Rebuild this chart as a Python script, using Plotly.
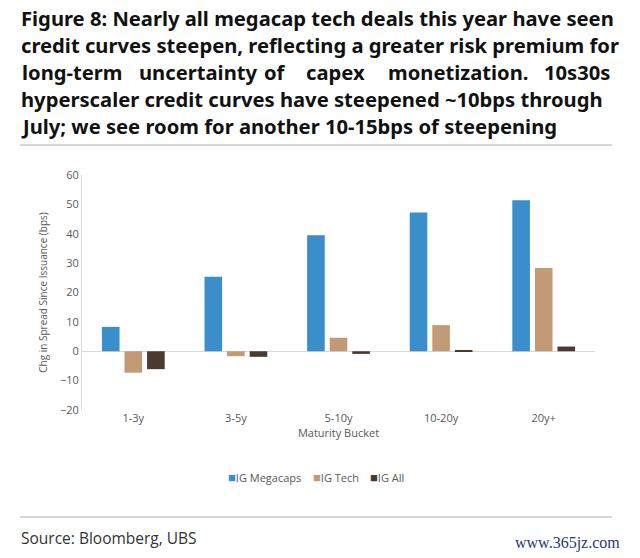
import plotly.graph_objects as go

buckets = ["1-3y", "3-5y", "5-10y", "10-20y", "20y+"]
series_names = ["IG Megacaps", "IG Tech", "IG All"]
ig_megacaps = [8.3, 25.4, 39.5, 47.2, 51.4]
ig_tech = [-7.3, -1.7, 4.6, 8.9, 28.3]
ig_all = [-6.1, -1.9, -0.9, 0.3, 1.6]
colors = ["#3A8FCB", "#C39A76", "#4B3A2E"]

title_lines = [
    "Figure 8: Nearly all megacap tech deals this year have seen",
    "credit curves steepen, reflecting a greater risk premium for",
    "long-term uncertainty of capex monetization. 10s30s",
    "hyperscaler credit curves have steepened ~10bps through",
    "July; we see room for another 10-15bps of steepening",
]
source_text = "Source: Bloomberg, UBS"

W, H = 640, 558
L, R, T, B = 82, 595, 175, 410


def px(x):
    return (x - L) / (R - L)


def py(y):
    return (B - y) / (B - T)


fig = go.Figure()
for name, vals, c in zip(series_names, [ig_megacaps, ig_tech, ig_all], colors):
    fig.add_trace(go.Bar(x=buckets, y=vals, name=name, marker_color=c,
                         marker_line_width=0))

title_font = dict(family="Noto Sans", size=20.2, color="#111111")
ann = []
line_y = [18, 45, 72, 99, 126]
for i, line in enumerate(title_lines):
    if i == 2:
        # justified line: place words across the full width
        words = line.split(" ")
        starts = [20, 137, 262, 304, 386]
        for w, s in zip(words[:-1], starts):
            ann.append(dict(text="<b>%s</b>" % w, x=px(s), y=py(line_y[i]),
                            xanchor="left", yanchor="middle", font=title_font))
        ann.append(dict(text="<b>%s</b>" % words[-1], x=px(612), y=py(line_y[i]),
                        xanchor="right", yanchor="middle", font=title_font))
    else:
        ann.append(dict(text="<b>%s</b>" % line, x=px(19), y=py(line_y[i]),
                        xanchor="left", yanchor="middle", font=title_font))

# legend row
leg_x = [226, 311, 368]
for name, c, lx in zip(series_names, colors, leg_x):
    ann.append(dict(text='<span style="color:%s;font-size:13px">■</span>%s' % (c, name),
                    x=px(lx), y=py(477), xanchor="left", yanchor="middle",
                    font=dict(family="Open Sans", size=11, color="#595959")))

ann.append(dict(text=source_text, x=px(19), y=py(538), xanchor="left",
                yanchor="middle", font=dict(family="Open Sans", size=15.5, color="#333333")))
ann.append(dict(text="www.365jz.com", x=px(622), y=py(543), xanchor="right",
                yanchor="middle", font=dict(family="Liberation Serif", size=16, color="#1F3A75")))

for a in ann:
    a.update(xref="paper", yref="paper", showarrow=False)

shapes = [
    dict(type="line", xref="paper", yref="paper", x0=px(20), x1=px(612),
         y0=py(145), y1=py(145), line=dict(color="#C8C8C8", width=1.5)),
    dict(type="line", xref="paper", yref="paper", x0=px(20), x1=px(612),
         y0=py(517), y1=py(517), line=dict(color="#C8C8C8", width=1.5)),
]

fig.update_layout(
    width=W, height=H,
    margin=dict(l=L, r=W - R, t=T, b=H - B),
    paper_bgcolor="white", plot_bgcolor="white",
    barmode="group", bargap=0.34, bargroupgap=0.22,
    showlegend=False,
    annotations=ann, shapes=shapes,
    font=dict(family="Open Sans", size=11, color="#595959"),
)
fig.update_xaxes(showline=False, showgrid=False, ticks="", range=[-0.5, 4.5],
                 tickfont=dict(size=11, color="#595959"),
                 title=dict(text="Maturity Bucket", standoff=4,
                            font=dict(size=11, color="#595959")))
fig.update_yaxes(range=[-20, 60], dtick=10, showgrid=False, showline=True,
                 linecolor="#D9D9D9", linewidth=1, ticks="",
                 zeroline=True, zerolinecolor="#D9D9D9", zerolinewidth=1,
                 tickfont=dict(size=11, color="#595959"),
                 title=dict(text="Chg in Spread Since Issuance (bps)", standoff=10,
                            font=dict(size=10, color="#595959")))

# drop the default 8px page margin so the figure sits at the window corner
fig.write_html("out.html", config={"displayModeBar": False},
               post_script="document.body.style.margin='0';")
